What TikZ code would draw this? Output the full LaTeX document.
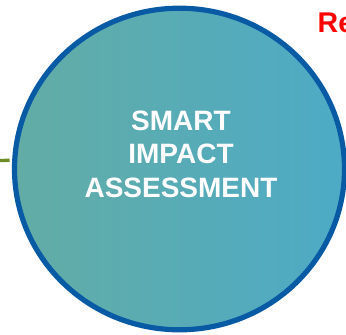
\documentclass[tikz,border=0pt]{standalone}
\usepackage{fontspec}
\setmainfont{Liberation Sans}
\usetikzlibrary{shapes.geometric}
\definecolor{tealL}{RGB}{99,172,165}
\definecolor{tealR}{RGB}{77,171,198}
\definecolor{rimblue}{RGB}{8,90,165}
\definecolor{olive}{RGB}{108,140,40}
\tikzset{
  bigcircle/.style={ellipse, draw=rimblue, line width=5.2pt, left color=tealL, right color=tealR,
    minimum width=330pt, minimum height=321.6pt, inner sep=0pt},
  centertext/.style={text=white, align=center, inner sep=0pt,
    font=\fontsize{28}{33.5}\selectfont\bfseries},
  linkline/.style={draw=olive, line width=3.3pt},
  redtitle/.style={text=red, inner sep=0pt, anchor=base west,
    font=\fontsize{28.5}{32}\selectfont\bfseries}
}
\begin{document}
\begin{tikzpicture}[x=1pt,y=-1pt]
\useasboundingbox (0,0) rectangle (346,335);
\node[bigcircle] (circ) at (179.5,169) {};
\node[centertext] (label) at (181,154) {SMART\\IMPACT\\ASSESSMENT};
\coordinate (g) at (0,160.5);
\draw[linkline, shorten >=2.5pt] (g) -- (circ.177.5);
\node[redtitle] (title) at (317.5,32) {Re};
\end{tikzpicture}
\end{document}
